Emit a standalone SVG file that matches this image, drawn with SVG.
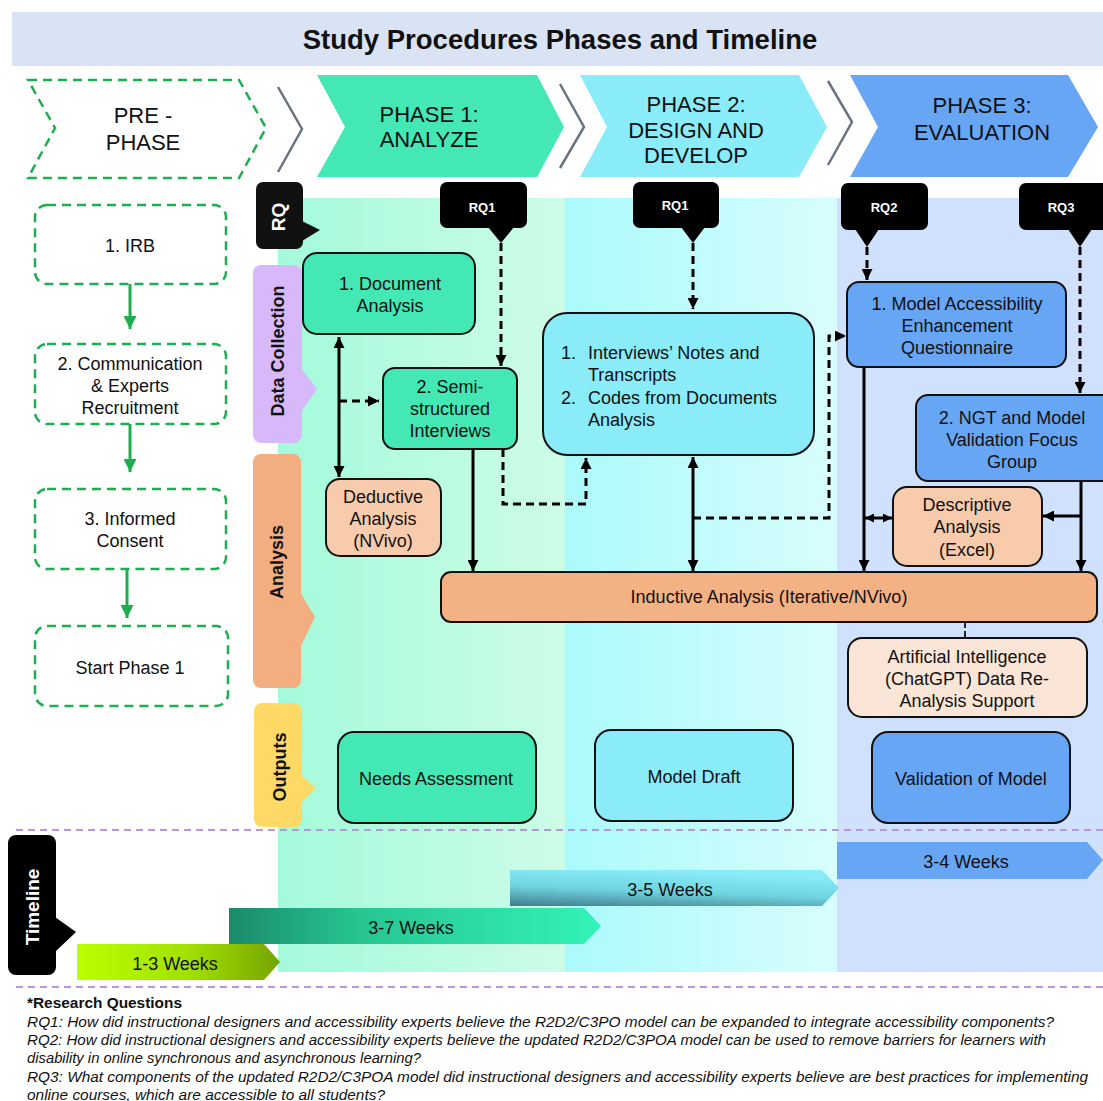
<svg xmlns="http://www.w3.org/2000/svg" width="1103" height="1101" viewBox="0 0 1103 1101">
  <style>
    text { font-family: "Liberation Sans", Arial, sans-serif; fill: #111; }
    .title { font-size: 27.5px; font-weight: bold; }
    .phase { font-size: 22px; text-anchor: middle; }
    .node { font-size: 18px; text-anchor: middle; }
    .left { font-size: 18px; text-anchor: start; }
    .tab { font-size: 18px; font-weight: bold; text-anchor: middle; }
    .tabw { font-size: 19px; font-weight: bold; text-anchor: middle; fill: #fff; }
    .rq { font-size: 13px; font-weight: bold; text-anchor: middle; fill: #fff; }
    .bar { font-size: 18px; text-anchor: middle; }
    .foot { font-size: 15px; font-style: italic; }
    .footb { font-size: 15px; font-weight: bold; }
    .box { stroke: #111; stroke-width: 2; }
    .pre { fill: #fff; stroke: #1fae4f; stroke-width: 2.5; stroke-dasharray: 9 6; }
    .sep { fill: none; stroke: #6b7383; stroke-width: 2.5; }
    .solid { fill: none; stroke: #000; stroke-width: 3; }
    .dash { fill: none; stroke: #000; stroke-width: 3; stroke-dasharray: 8 5; }
    .garrow { fill: none; stroke: #1fae4f; stroke-width: 3; }
    .divider { stroke: #b796dc; stroke-width: 2; stroke-dasharray: 7 5; }
  </style>
  <defs>
    <marker id="ah" viewBox="0 0 10 10" refX="10" refY="5" markerWidth="11" markerHeight="11" markerUnits="userSpaceOnUse" orient="auto-start-reverse">
      <path d="M0,0 L10,5 L0,10 z" fill="#000"/>
    </marker>
    <marker id="ahs" viewBox="0 0 10 10" refX="10" refY="5" markerWidth="9" markerHeight="9" markerUnits="userSpaceOnUse" orient="auto-start-reverse">
      <path d="M0,0 L10,5 L0,10 z" fill="#000"/>
    </marker>
    <marker id="ahg" viewBox="0 0 10 10" refX="10" refY="5" markerWidth="13" markerHeight="13" markerUnits="userSpaceOnUse" orient="auto">
      <path d="M0,0 L10,5 L0,10 z" fill="#1fae4f"/>
    </marker>
    <linearGradient id="col1" x1="0" y1="0" x2="1" y2="0">
      <stop offset="0" stop-color="#a4fadb"/>
      <stop offset="1" stop-color="#cdfce7"/>
    </linearGradient>
    <linearGradient id="col2" x1="0" y1="0" x2="1" y2="0">
      <stop offset="0" stop-color="#abfafb"/>
      <stop offset="1" stop-color="#d8fdfd"/>
    </linearGradient>
    <linearGradient id="g13" x1="0" y1="0" x2="1" y2="0">
      <stop offset="0" stop-color="#bcff00"/>
      <stop offset="0.55" stop-color="#a2e000"/>
      <stop offset="1" stop-color="#76a400"/>
    </linearGradient>
    <linearGradient id="g37" x1="0" y1="0" x2="1" y2="0">
      <stop offset="0" stop-color="#1a8a6a"/>
      <stop offset="0.35" stop-color="#27c592"/>
      <stop offset="1" stop-color="#33f3b7"/>
    </linearGradient>
    <linearGradient id="g35" x1="0" y1="1" x2="0.35" y2="0">
      <stop offset="0" stop-color="#417c8a"/>
      <stop offset="0.5" stop-color="#6fd3e0"/>
      <stop offset="1" stop-color="#88ebf7"/>
    </linearGradient>
  </defs>

  <!-- title band -->
  <rect x="12" y="12" width="1091" height="54" fill="#dae3f3"/>
  <text class="title" x="560" y="49" text-anchor="middle">Study Procedures Phases and Timeline</text>

  <!-- phase column backgrounds -->
  <rect x="278" y="198" width="287" height="774" fill="url(#col1)"/>
  <rect x="565" y="198" width="272" height="774" fill="url(#col2)"/>
  <rect x="837" y="198" width="266" height="774" fill="#cfe1fd"/>

  <!-- phase chevrons -->
  <g id="pre-phase">
    <polygon points="28,80 239,80 266,128 239,178 28,178 55,128" fill="none" stroke="#1fae4f" stroke-width="2.5" stroke-dasharray="9 6"/>
    <text class="phase" x="143" y="123">PRE -</text>
    <text class="phase" x="143" y="150">PHASE</text>
  </g>
  <polyline class="sep" points="278,87 302,129 278,172"/>
  <g id="phase-1">
    <polygon points="317,75 537,75 564,127 537,177 317,177 345,127" fill="#43e8b4"/>
    <text class="phase" x="429" y="122">PHASE 1:</text>
    <text class="phase" x="429" y="147">ANALYZE</text>
  </g>
  <polyline class="sep" points="560,84 584,127 560,168"/>
  <g id="phase-2">
    <polygon points="580,75 799,75 827,127 799,177 580,177 607,127" fill="#8aebf9"/>
    <text class="phase" x="696" y="112">PHASE 2:</text>
    <text class="phase" x="696" y="138">DESIGN AND</text>
    <text class="phase" x="696" y="163">DEVELOP</text>
  </g>
  <polyline class="sep" points="828,81 852,122 828,165"/>
  <g id="phase-3">
    <polygon points="850,75 1068,75 1098,127 1068,177 850,177 878,127" fill="#67a6f5"/>
    <text class="phase" x="982" y="113">PHASE 3:</text>
    <text class="phase" x="982" y="140">EVALUATION</text>
  </g>

  <!-- row tabs -->
  <g id="tab-rq">
    <rect x="256" y="182" width="47" height="67" rx="7" fill="#111"/>
    <polygon points="302,221 320,230 302,241" fill="#111"/>
    <text class="tabw" transform="translate(285,217) rotate(-90)">RQ</text>
  </g>
  <g id="tab-data-collection">
    <rect x="253" y="265" width="49" height="178" rx="8" fill="#d7b9fa"/>
    <polygon points="301,368 317,389 301,412" fill="#d7b9fa"/>
    <text class="tab" transform="translate(284,351) rotate(-90)">Data Collection</text>
  </g>
  <g id="tab-analysis">
    <rect x="253" y="454" width="48" height="234" rx="8" fill="#f2ae80"/>
    <polygon points="300,592 315,617 300,648" fill="#f2ae80"/>
    <text class="tab" transform="translate(283,562) rotate(-90)">Analysis</text>
  </g>
  <g id="tab-outputs">
    <rect x="254" y="703" width="48" height="124" rx="8" fill="#ffd966"/>
    <polygon points="301,775 316,788 301,803" fill="#ffd966"/>
    <text class="tab" transform="translate(286,767) rotate(-90)">Outputs</text>
  </g>
  <g id="tab-timeline">
    <rect x="8" y="835" width="48" height="140" rx="8" fill="#000"/>
    <polygon points="55,917 76,932 55,952" fill="#000"/>
    <text class="tabw" transform="translate(39,907) rotate(-90)">Timeline</text>
  </g>

  <!-- pre-phase steps -->
  <g id="irb">
    <rect class="pre" x="35" y="205" width="191" height="79" rx="12"/>
    <text class="node" x="130" y="252">1. IRB</text>
  </g>
  <g id="recruitment">
    <rect class="pre" x="35" y="344" width="191" height="80" rx="12"/>
    <text class="node" x="130" y="370">2. Communication</text>
    <text class="node" x="130" y="392">&amp; Experts</text>
    <text class="node" x="130" y="414">Recruitment</text>
  </g>
  <g id="consent">
    <rect class="pre" x="35" y="489" width="191" height="80" rx="12"/>
    <text class="node" x="130" y="525">3. Informed</text>
    <text class="node" x="130" y="547">Consent</text>
  </g>
  <g id="start-phase-1">
    <rect class="pre" x="35" y="626" width="193" height="80" rx="12"/>
    <text class="node" x="130" y="674">Start Phase 1</text>
  </g>

  <!-- research question callouts -->
  <g id="rq1-a">
    <rect x="440" y="182" width="87" height="46" rx="7" fill="#000"/>
    <polygon points="488,227 501,243 514,227" fill="#000"/>
    <text class="rq" x="482" y="212">RQ1</text>
  </g>
  <g id="rq1-b">
    <rect x="633" y="182" width="86" height="46" rx="7" fill="#000"/>
    <polygon points="681,227 693,243 705,227" fill="#000"/>
    <text class="rq" x="675" y="210">RQ1</text>
  </g>
  <g id="rq2">
    <rect x="841" y="183" width="87" height="47" rx="7" fill="#000"/>
    <polygon points="855,229 867,247 879,229" fill="#000"/>
    <text class="rq" x="884" y="212">RQ2</text>
  </g>
  <g id="rq3">
    <rect x="1019" y="183" width="95" height="47" rx="7" fill="#000"/>
    <polygon points="1068,229 1080,247 1092,229" fill="#000"/>
    <text class="rq" x="1061" y="212">RQ3</text>
  </g>

  <!-- connectors -->
  <g id="connectors">
    <line class="garrow" x1="130" y1="284" x2="130" y2="329" marker-end="url(#ahg)"/>
    <line class="garrow" x1="130" y1="424" x2="130" y2="472" marker-end="url(#ahg)"/>
    <line class="garrow" x1="127" y1="569" x2="127" y2="618" marker-end="url(#ahg)"/>

    <path class="dash" d="M501,243 V366" marker-end="url(#ah)"/>
    <path class="dash" d="M693,243 V309" marker-end="url(#ah)"/>
    <path class="dash" d="M867,247 V280" marker-end="url(#ah)"/>
    <path class="dash" d="M1080,247 V393" marker-end="url(#ah)"/>

    <path class="solid" d="M339,337 V477" marker-start="url(#ah)" marker-end="url(#ah)"/>
    <path class="dash" d="M339,401 H379" marker-end="url(#ah)"/>
    <path class="solid" d="M473,449 V571" marker-end="url(#ah)"/>
    <path class="dash" d="M503,449 V504 H586 V458" marker-end="url(#ah)"/>
    <path class="solid" d="M693,457 V571" marker-start="url(#ah)" marker-end="url(#ah)"/>
    <path class="dash" d="M693,518 H829 V336 H846" marker-end="url(#ah)"/>
    <path class="solid" d="M864,367 V571" marker-end="url(#ah)"/>
    <path class="solid" d="M865,518 H892" marker-start="url(#ahs)" marker-end="url(#ahs)"/>
    <path class="solid" d="M1081,481 V571" marker-end="url(#ah)"/>
    <path class="solid" d="M1081,516 H1043" marker-end="url(#ah)"/>
    <path fill="none" stroke="#222" stroke-width="2" stroke-dasharray="6 3" d="M965,622 V638"/>
  </g>

  <!-- data collection nodes -->
  <g id="document-analysis">
    <rect class="box" x="303" y="253" width="172" height="81" rx="14" fill="#43e8b4"/>
    <text class="node" x="390" y="290">1. Document</text>
    <text class="node" x="390" y="312">Analysis</text>
  </g>
  <g id="semi-structured-interviews">
    <rect class="box" x="383" y="368" width="134" height="81" rx="12" fill="#43e8b4"/>
    <text class="node" x="450" y="393">2. Semi-</text>
    <text class="node" x="450" y="415">structured</text>
    <text class="node" x="450" y="437">Interviews</text>
  </g>
  <g id="interview-notes-codes">
    <rect class="box" x="543" y="313" width="271" height="142" rx="24" fill="#8aebf9"/>
    <text class="left" x="561" y="359">1.</text>
    <text class="left" x="588" y="359">Interviews’ Notes and</text>
    <text class="left" x="588" y="381">Transcripts</text>
    <text class="left" x="561" y="404">2.</text>
    <text class="left" x="588" y="404">Codes from Documents</text>
    <text class="left" x="588" y="426">Analysis</text>
  </g>
  <g id="accessibility-questionnaire">
    <rect class="box" x="847" y="282" width="219" height="85" rx="12" fill="#67a6f5"/>
    <text class="node" x="957" y="310">1. Model Accessibility</text>
    <text class="node" x="957" y="332">Enhancement</text>
    <text class="node" x="957" y="354">Questionnaire</text>
  </g>
  <g id="ngt-focus-group">
    <rect class="box" x="916" y="395" width="200" height="86" rx="12" fill="#67a6f5"/>
    <text class="node" x="1012" y="424">2. NGT and Model</text>
    <text class="node" x="1012" y="446">Validation Focus</text>
    <text class="node" x="1012" y="468">Group</text>
  </g>

  <!-- analysis nodes -->
  <g id="deductive-analysis">
    <rect class="box" x="326" y="479" width="115" height="77" rx="14" fill="#f8cbad"/>
    <text class="node" x="383" y="503">Deductive</text>
    <text class="node" x="383" y="525">Analysis</text>
    <text class="node" x="383" y="547">(NVivo)</text>
  </g>
  <g id="descriptive-analysis">
    <rect class="box" x="893" y="487" width="149" height="79" rx="14" fill="#f8cbad"/>
    <text class="node" x="967" y="511">Descriptive</text>
    <text class="node" x="967" y="533">Analysis</text>
    <text class="node" x="967" y="556">(Excel)</text>
  </g>
  <g id="inductive-analysis">
    <rect class="box" x="441" y="572" width="656" height="50" rx="10" fill="#f4b183"/>
    <text class="node" x="769" y="603">Inductive Analysis (Iterative/NVivo)</text>
  </g>
  <g id="ai-support">
    <rect class="box" x="848" y="638" width="239" height="79" rx="14" fill="#fbe5d6"/>
    <text class="node" x="967" y="663">Artificial Intelligence</text>
    <text class="node" x="967" y="685">(ChatGPT) Data Re-</text>
    <text class="node" x="967" y="707">Analysis Support</text>
  </g>

  <!-- outputs -->
  <g id="needs-assessment">
    <rect class="box" x="338" y="732" width="198" height="91" rx="16" fill="#43e8b4"/>
    <text class="node" x="436" y="785">Needs Assessment</text>
  </g>
  <g id="model-draft">
    <rect class="box" x="595" y="730" width="198" height="91" rx="16" fill="#8aebf9"/>
    <text class="node" x="694" y="783">Model Draft</text>
  </g>
  <g id="validation-of-model">
    <rect class="box" x="872" y="732" width="198" height="91" rx="16" fill="#67a6f5"/>
    <text class="node" x="971" y="785">Validation of Model</text>
  </g>

  <!-- timeline -->
  <line class="divider" x1="16" y1="830" x2="1103" y2="830"/>
  <g id="timeline-1-3">
    <polygon points="77,944 264,944 280,962 264,980 77,980" fill="url(#g13)"/>
    <text class="bar" x="175" y="970">1-3 Weeks</text>
  </g>
  <g id="timeline-3-7">
    <polygon points="229,908 584,908 601,926 584,944 229,944" fill="url(#g37)"/>
    <text class="bar" x="411" y="934">3-7 Weeks</text>
  </g>
  <g id="timeline-3-5">
    <polygon points="510,870 822,870 839,888 822,906 510,906" fill="url(#g35)"/>
    <text class="bar" x="670" y="896">3-5 Weeks</text>
  </g>
  <g id="timeline-3-4">
    <polygon points="837,842 1087,842 1103,860 1087,879 837,879" fill="#67a6f5"/>
    <text class="bar" x="966" y="868">3-4 Weeks</text>
  </g>
  <line class="divider" x1="16" y1="987" x2="1103" y2="987"/>

  <!-- research questions legend -->
  <g id="legend">
    <text class="footb" x="27" y="1008" textLength="155" lengthAdjust="spacingAndGlyphs">*Research Questions</text>
    <text class="foot" x="27" y="1027" textLength="1027" lengthAdjust="spacingAndGlyphs">RQ1: How did instructional designers and accessibility experts believe the R2D2/C3PO model can be expanded to integrate accessibility components?</text>
    <text class="foot" x="27" y="1045" textLength="1019" lengthAdjust="spacingAndGlyphs">RQ2: How did instructional designers and accessibility experts believe the updated R2D2/C3POA model can be used to remove barriers for learners with</text>
    <text class="foot" x="27" y="1063" textLength="394" lengthAdjust="spacingAndGlyphs">disability in online synchronous and asynchronous learning?</text>
    <text class="foot" x="27" y="1082" textLength="1061" lengthAdjust="spacingAndGlyphs">RQ3: What components of the updated R2D2/C3POA model did instructional designers and accessibility experts believe are best practices for implementing</text>
    <text class="foot" x="27" y="1100" textLength="358" lengthAdjust="spacingAndGlyphs">online courses, which are accessible to all students?</text>
  </g>
</svg>
